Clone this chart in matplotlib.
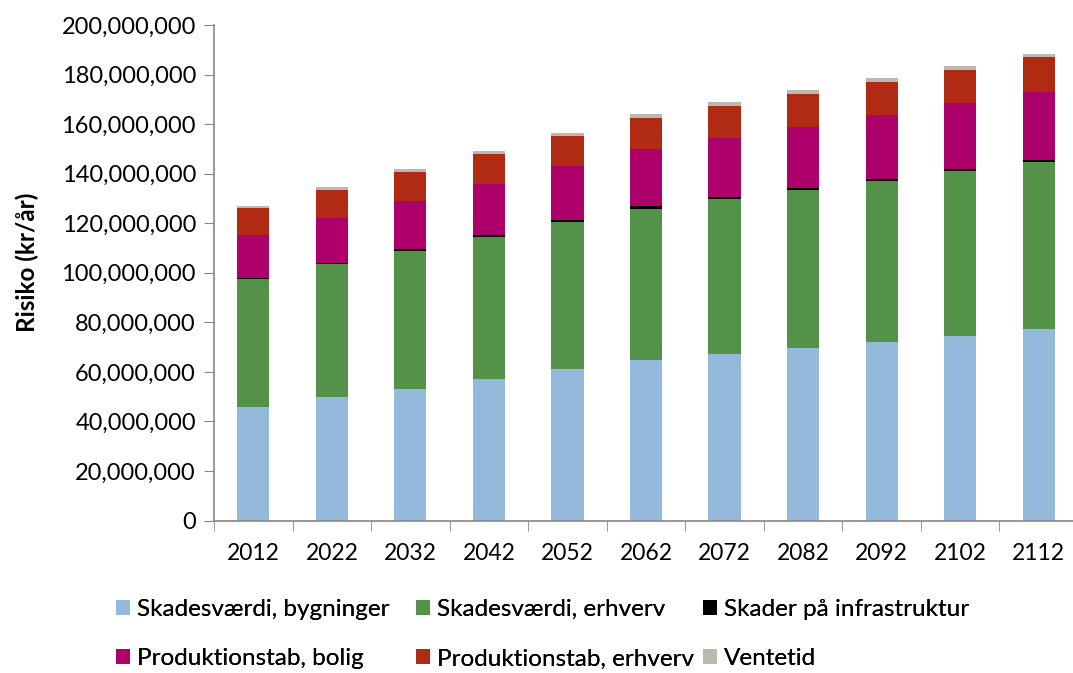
import numpy as np
import matplotlib.pyplot as plt
from matplotlib.ticker import FuncFormatter

plt.rcParams['font.family'] = ['Lato', 'DejaVu Sans']

years = ['2012', '2022', '2032', '2042', '2052', '2062', '2072', '2082', '2092', '2102', '2112']

# risk per component, million kr/year
bygninger = [45.8, 49.7, 53.2, 57.2, 61.2, 64.6, 67.2, 69.5, 72.1, 74.5, 77.2]
erhverv = [51.8, 53.7, 55.6, 57.3, 59.1, 61.3, 62.6, 64.0, 65.0, 66.5, 67.4]
infrastruktur = [0.4, 0.4, 0.6, 0.7, 0.8, 0.9, 0.8, 0.8, 0.8, 0.9, 1.0]
prod_bolig = [17.4, 18.1, 19.6, 20.8, 21.8, 23.1, 23.6, 24.6, 25.7, 26.5, 27.2]
prod_erhverv = [10.9, 11.6, 11.6, 12.0, 12.4, 12.6, 13.2, 13.4, 13.5, 13.6, 14.1]
ventetid = [0.8, 1.2, 1.3, 1.1, 1.2, 1.4, 1.4, 1.3, 1.5, 1.6, 1.5]

series = [
    ('Skadesværdi, bygninger', bygninger, '#95b9da'),
    ('Skadesværdi, erhverv', erhverv, '#539248'),
    ('Skader på infrastruktur', infrastruktur, '#000000'),
    ('Produktionstab, bolig', prod_bolig, '#ad006a'),
    ('Produktionstab, erhverv', prod_erhverv, '#b12b14'),
    ('Ventetid', ventetid, '#bbb9af'),
]

fig = plt.figure(figsize=(10.73, 6.73), dpi=100)
ax = fig.add_axes([214/1073, (673-520.5)/673, 864/1073, 495.5/673])

x = np.arange(len(years))
bottom = np.zeros(len(years))
handles = []
for name, vals, col in series:
    v = np.array(vals) * 1e6
    b = ax.bar(x, v, 0.41, bottom=bottom, color=col, label=name, linewidth=0)
    handles.append(b)
    bottom += v

ax.set_ylim(0, 200e6)
ax.set_yticks(np.arange(0, 200e6 + 1, 20e6))
ax.yaxis.set_major_formatter(FuncFormatter(lambda v, p: f'{v:,.0f}'))
ax.set_xlim(-0.5, 10.5)
ax.set_xticks(x)
ax.set_xticklabels(years)
ax.set_xticks(np.arange(-0.5, 10.6, 1), minor=True)
ax.tick_params(axis='x', which='major', length=0, pad=16, labelsize=16.5)
ax.tick_params(axis='x', which='minor', length=7, color='#868686', direction='out')
ax.tick_params(axis='y', length=7, color='#868686', labelsize=17, pad=6)

for s in ['top', 'right']:
    ax.spines[s].set_visible(False)
for s in ['left', 'bottom']:
    ax.spines[s].set_color('#868686')
    ax.spines[s].set_linewidth(1.2)

fig.text(27/1073, 1 - 262/673, 'Risiko (kr/år)', rotation=90, fontsize=17.5,
         fontweight='bold', ha='center', va='center')

# three legend columns, two entries each
cols = [(116, [0, 3]), (416, [1, 4]), (703, [2, 5])]
for xpx, idx in cols:
    leg = fig.legend([handles[i] for i in idx], [series[i][0] for i in idx],
                     loc='upper left', bbox_to_anchor=(xpx/1073, 1 - 599/673),
                     frameon=False, fontsize=17.5, handlelength=0.58, handleheight=0.58,
                     handletextpad=0.3, labelspacing=1.17, borderpad=0, borderaxespad=0)
    fig.add_artist(leg)

fig.savefig('out.png', dpi=100)
